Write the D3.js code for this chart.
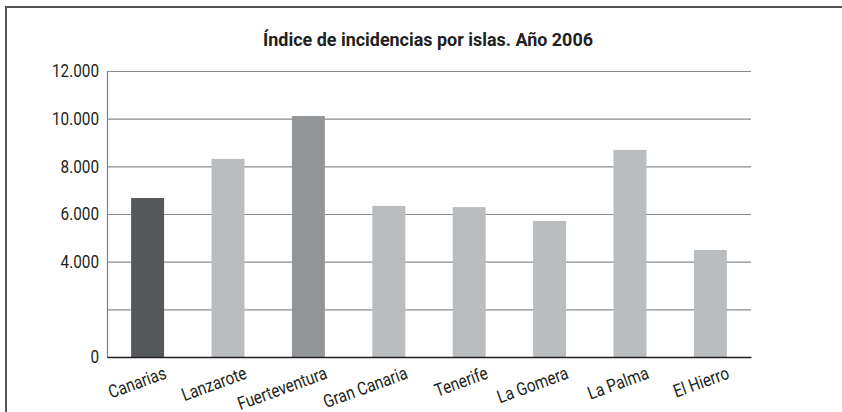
<!DOCTYPE html>
<html>
<head>
<meta charset="utf-8">
<script src="https://cdn.jsdelivr.net/npm/d3@7"></script>
<style>
  body { margin: 0; background: #fff; }
  svg { display: block; }
  .chart text { font-family: Roboto, "Liberation Sans", sans-serif; fill: #231f20; }
</style>
</head>
<body>
<div id="chart"></div>
<script>
// Datos
const islas = ["Canarias", "Lanzarote", "Fuerteventura", "Gran Canaria", "Tenerife", "La Gomera", "La Palma", "El Hierro"];
const indices = [6670, 8310, 10110, 6340, 6290, 5710, 8690, 4490];
const colores = ["#55585b", "#babdc0", "#939699", "#babdc0", "#babdc0", "#babdc0", "#babdc0", "#babdc0"];
const ticksY = [0, 2000, 4000, 6000, 8000, 10000, 12000];
const etiquetasY = ["0", "", "4.000", "6.000", "8.000", "10.000", "12.000"];
const titulo = "Índice de incidencias por islas. Año 2006";

const W = 842, H = 412;
const margin = { top: 71, right: 91, bottom: 55, left: 107 };
const width = W - margin.left - margin.right;
const height = H - margin.top - margin.bottom;

// No hay fuentes condensadas: se estrecha el texto con textLength
function estrechar(sel, factor) {
    sel.each(function () {
        const len = this.getComputedTextLength();
        if (len > 0) {
            d3.select(this)
                .attr("textLength", len * factor)
                .attr("lengthAdjust", "spacingAndGlyphs");
        }
    });
}

const root = d3.select("#chart").append("svg")
    .attr("class", "chart")
    .attr("width", W)
    .attr("height", H);

// Marco (solo arriba e izquierda)
root.append("path")
    .attr("d", `M6,${H} L6,7 L${W},7`)
    .attr("fill", "none")
    .attr("stroke", "#555")
    .attr("stroke-width", 2);

// Título
root.append("text")
    .attr("x", 428)
    .attr("y", 46)
    .attr("text-anchor", "middle")
    .attr("textLength", 330)
    .attr("lengthAdjust", "spacingAndGlyphs")
    .style("font-size", "19px")
    .style("font-weight", "bold")
    .text(titulo);

const svg = root.append("g")
    .attr("transform", `translate(${margin.left},${margin.top})`);

// Escalas
const x = d3.scaleBand()
    .domain(islas)
    .range([0, width])
    .paddingInner(0.59)
    .paddingOuter(0.3);

const y = d3.scaleLinear()
    .domain([0, 12000])
    .range([height, 0]);

// Líneas de cuadrícula + etiquetas del eje Y
const ejeY = svg.append("g")
    .call(d3.axisLeft(y)
        .tickValues(ticksY)
        .tickSize(-width)
        .tickPadding(8)
        .tickFormat((d, i) => etiquetasY[i]));
ejeY.select(".domain").attr("stroke", "#808080").attr("stroke-width", 1.2);
ejeY.selectAll(".tick line").attr("stroke", "#8c8c8c").attr("stroke-width", 1.2);
ejeY.selectAll(".tick text").style("font-size", "18px").call(estrechar, 0.85);

// Barras
svg.selectAll("rect.bar")
    .data(islas)
    .enter()
    .append("rect")
    .attr("class", "bar")
    .attr("x", d => x(d))
    .attr("y", (d, i) => y(indices[i]))
    .attr("width", x.bandwidth())
    .attr("height", (d, i) => height - y(indices[i]))
    .attr("fill", (d, i) => colores[i]);

// Eje X
const ejeX = svg.append("g")
    .attr("transform", `translate(0,${height})`)
    .call(d3.axisBottom(x).tickSize(0).tickPadding(0));
ejeX.select(".domain").attr("stroke", "#231f20").attr("stroke-width", 1.5);
ejeX.selectAll(".tick text")
    .attr("text-anchor", "end")
    .attr("x", 0)
    .attr("y", 0)
    .attr("dy", 0)
    .attr("transform", "translate(20,21) rotate(-20)")
    .style("font-size", "18px")
    .call(estrechar, 0.85);
</script>
</body>
</html>
